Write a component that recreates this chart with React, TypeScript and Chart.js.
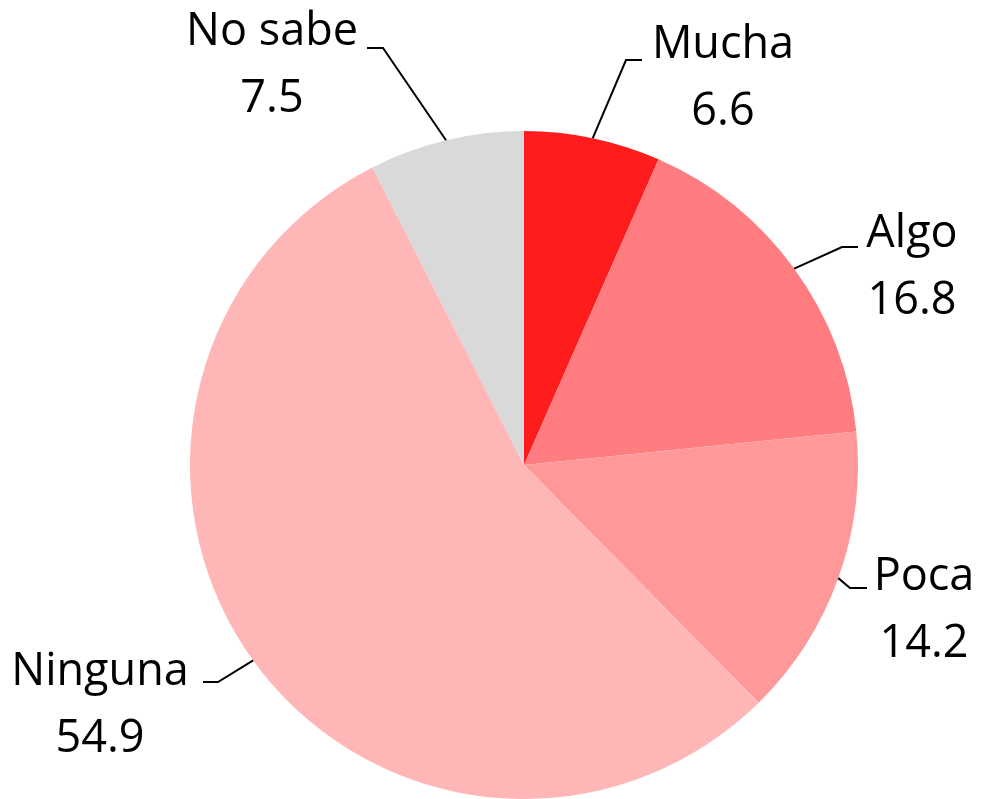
import React, { useEffect, useRef } from "react";
import { Chart, registerables } from "chart.js";

Chart.register(...registerables);

const categories = ["Mucha", "Algo", "Poca", "Ninguna", "No sabe"];
const values = [6.6, 16.8, 14.2, 54.9, 7.5];
const colors = ["#FF1C1C", "#FF7C80", "#FF9999", "#FFB6B7", "#D9D9D9"];

// label layout, relative to pie centre (px)
const labelX = [199, 388, 400, -424, -252];
const labelBaseline = [-407, -218, 125, 220, -420];
const elbowX = [102, 318, 326, -306, -141];
const elbowY = [-405, -218, 123, 217, -417];
const lineEndX = [118, 334, 343, -321, -157];

const FONT = '45px "Open Sans", "Noto Sans", sans-serif';
const LINE_GAP = 67;

const labelPlugin = {
  id: "leaderLabels",
  afterDraw(chart: any) {
    const ctx = chart.ctx;
    const meta = chart.getDatasetMeta(0);
    ctx.save();
    meta.data.forEach((arc: any, i: number) => {
      const p = arc.getProps(["x", "y", "startAngle", "endAngle", "outerRadius"], true);
      const mid = (p.startAngle + p.endAngle) / 2;
      const ex = p.x + p.outerRadius * Math.cos(mid);
      const ey = p.y + p.outerRadius * Math.sin(mid);
      ctx.beginPath();
      ctx.strokeStyle = "#000";
      ctx.lineWidth = 2;
      ctx.moveTo(ex, ey);
      ctx.lineTo(p.x + elbowX[i], p.y + elbowY[i]);
      ctx.lineTo(p.x + lineEndX[i], p.y + elbowY[i]);
      ctx.stroke();
      ctx.fillStyle = "#000";
      ctx.font = FONT;
      ctx.textAlign = "center";
      ctx.textBaseline = "alphabetic";
      const tx = p.x + labelX[i];
      const ty = p.y + labelBaseline[i];
      ctx.fillText(categories[i], tx, ty);
      ctx.fillText(values[i].toFixed(1), tx, ty + LINE_GAP);
    });
    ctx.restore();
  },
};

export default function App() {
  const ref = useRef<HTMLCanvasElement>(null);
  useEffect(() => {
    if (!ref.current) return;
    const chart = new Chart(ref.current, {
      type: "pie",
      data: {
        labels: categories,
        datasets: [
          {
            data: values,
            backgroundColor: colors,
            borderWidth: 0,
          },
        ],
      },
      options: {
        responsive: false,
        animation: false,
        layout: { padding: { left: 190, right: 123, top: 131, bottom: 0 } },
        plugins: {
          legend: { display: false },
          tooltip: { enabled: false },
        },
      },
      plugins: [labelPlugin],
    });
    return () => chart.destroy();
  }, []);
  return (
    <div style={{ position: "fixed", left: 0, top: 0, width: 981, height: 799, background: "#fff" }}>
      <canvas ref={ref} width={981} height={799} style={{ width: 981, height: 799, display: "block" }} />
    </div>
  );
}
